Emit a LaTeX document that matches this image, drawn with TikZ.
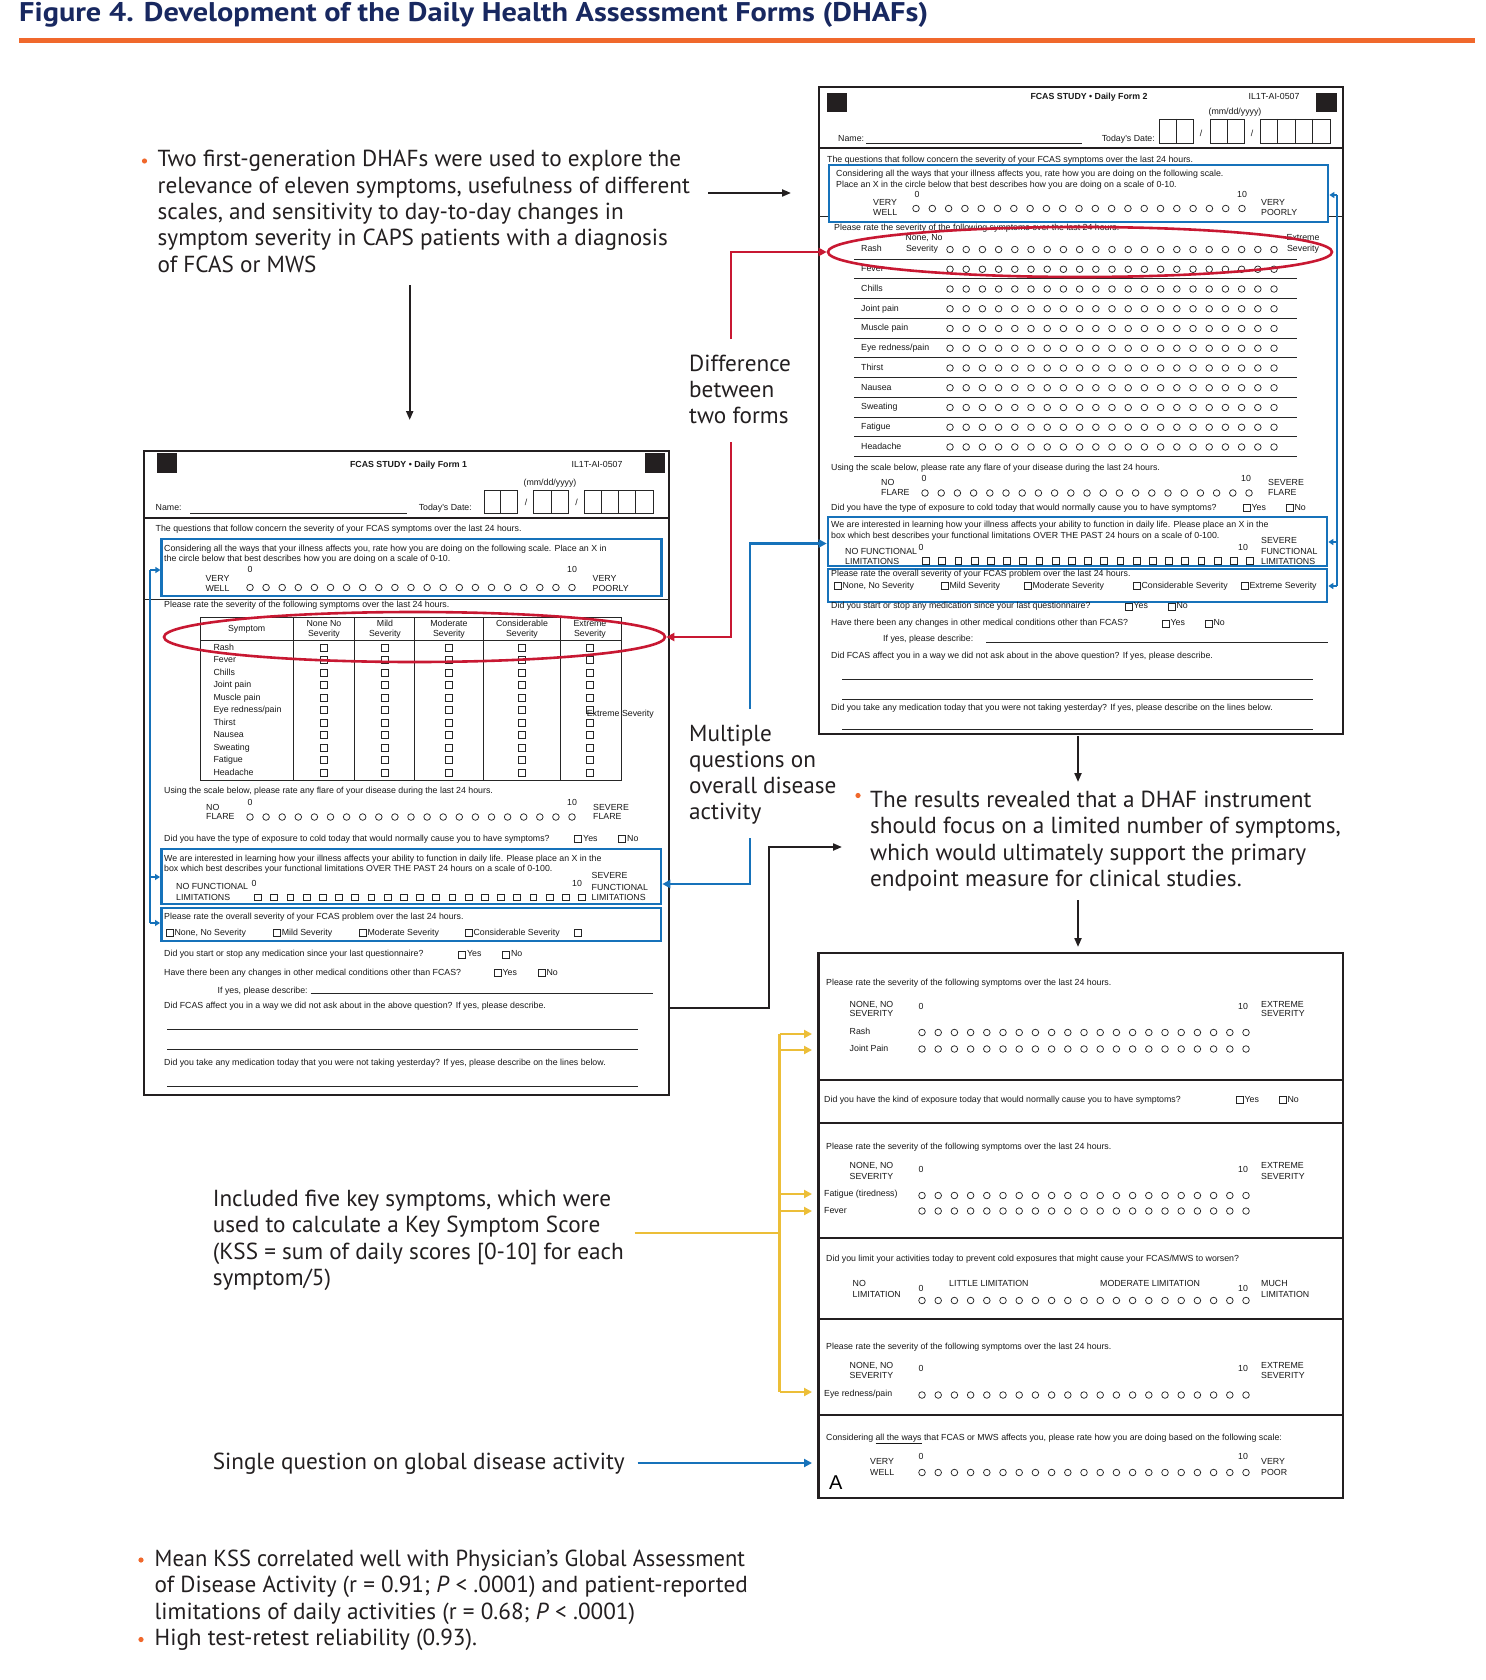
\documentclass[tikz,border=0pt]{standalone}
\usepackage{fontspec}
\usepackage{graphicx}
\setmainfont{PT Sans}
\newfontfamily\formfont{Liberation Sans}
\newfontfamily\titlefont{PT Sans}
\usetikzlibrary{shapes.geometric,arrows.meta,fit}
\definecolor{navy}{RGB}{24,40,96}
\definecolor{orng}{RGB}{240,104,44}
\definecolor{fblue}{RGB}{22,114,186}
\definecolor{fred}{RGB}{200,24,50}
\definecolor{fyel}{RGB}{236,190,56}
\definecolor{fgray}{RGB}{35,31,32}
\newcommand\crow[3]{\foreach \k in {0,...,20}{\draw[fL] ({#1+\k*#3},#2) circle[radius=3.3pt];}}
\newcommand\srow[3]{\foreach \k in {0,...,20}{\draw[fL] ({#1+\k*#3-3.4},{#2-3.4}) rectangle ++(6.8,6.8);}}
\newcommand\cbx[3]{\draw[fL] (#1,{#2-3.5}) rectangle ++(7,7); \node[fT] at ({#1+8.4},#2) {#3};}
\newcommand\ftx[2]{\node[fT] at (#1) {#2};}
\newcommand\fcx[2]{\node[fT,anchor=center] at (#1) {#2};}
\tikzset{
  fT/.style={font=\formfont\fontsize{8.8}{9}\selectfont, inner sep=0pt, anchor=west, text height=6.4pt, text depth=1.8pt, text=black!90},
  fTB/.style={fT, font=\formfont\bfseries\fontsize{8.8}{9}\selectfont},
  fL/.style={line width=0.75pt, draw=black!85},
  fBorder/.style={draw=fgray, line width=2.6pt, inner sep=0pt},
  fSep/.style={draw=fgray, line width=1.8pt},
  bBox/.style={draw=fblue, line width=2.6pt, inner sep=0pt},
  rEll/.style={draw=fred, line width=2.6pt, ellipse, inner sep=0pt},
  bodyT/.style={font=\fontsize{23.2}{26}\selectfont, inner sep=0pt, anchor=base west, text=fgray},
  arrK/.style={draw=fgray, line width=2pt, -{Triangle[length=9pt,width=7pt]}},
  arrR/.style={draw=fred, line width=2.6pt, -{Triangle[length=8pt,width=8pt]}},
  arrB/.style={draw=fblue, line width=2.4pt, -{Triangle[length=8pt,width=8pt]}},
  arrY/.style={draw=fyel, line width=2.6pt, -{Triangle[length=8pt,width=8pt]}},
  arrBs/.style={draw=fblue, line width=2pt, -{Triangle[length=5pt,width=6pt]}},
}
\begin{document}
\begin{tikzpicture}[x=1pt,y=-1pt]
\useasboundingbox (0,0) rectangle (1485,1680);
\fill[white] (0,0) rectangle (1485,1680);
% ---------------- title
\node[anchor=base west, inner sep=0pt, text=navy] (title) at (19,21.5) {\resizebox{909pt}{\height}{\titlefont\bfseries\fontsize{27}{27}\selectfont Figure 4. Development of the Daily Health Assessment Forms (DHAFs)}};
\fill[orng] (19,38.5) rectangle (1475,43);

% ---------------- FORM 2 (top right)
\node[fBorder, fit={(819,87)(1343,734)}] (F2) {};
\fill[fgray] (827,93) rectangle (847,112);
\fill[fgray] (1316,93) rectangle (1337,112);
\node[fTB, anchor=center] at (1089,97) {FCAS STUDY • Daily Form 2};
\fcx{1274,97}{IL1T-AI-0507}
\fcx{1235,112.5}{(mm/dd/yyyy)}
\ftx{838,139}{Name:}
\draw[fL] (866,143) -- (1082,143);
\node[fT,anchor=east] at (1155,139) {Today's Date:};
\draw[fL] (1159,119) rectangle (1193,143) (1176,119) -- (1176,143);
\fcx{1201,134}{/}
\draw[fL] (1210,119) rectangle (1244,143) (1227,119) -- (1227,143);
\fcx{1252,134}{/}
\draw[fL] (1260,119) rectangle (1330,143) (1277.5,119) -- (1277.5,143) (1295,119) -- (1295,143) (1312.5,119) -- (1312.5,143);
\draw[fSep] (819,148) -- (1343,148);
\ftx{827,160.5}{The questions that follow concern the severity of your FCAS symptoms over the last 24 hours.}
\draw[fL] (819,216) -- (829,216) (1328,216) -- (1343,216);
\node[bBox, fit={(829,165)(1328,222)}] (F2b1) {};
\ftx{836,174.6}{Considering all the ways that your illness affects you, rate how you are doing on the following scale.}
\ftx{836,185.4}{Place an X in the circle below that best describes how you are doing on a scale of 0-10.}
\fcx{917,195}{0} \fcx{1242,195}{10}
\ftx{873,203.6}{VERY} \ftx{873,213.2}{WELL}
\crow{916}{208.5}{16.3}
\ftx{1261,203.6}{VERY} \ftx{1261,213.2}{POORLY}
\ftx{834,228}{Please rate the severity of the following symptoms over the last 24 hours.}
\fcx{924,238}{None, No} \fcx{922,249}{Severity}
\fcx{1303,238}{Extreme} \fcx{1303,249}{Severity}
\foreach [count=\i from 0] \s in {Rash,Fever,Chills,Joint pain,Muscle pain,Eye redness/pain,Thirst,Nausea,Sweating,Fatigue,Headache}{
  \pgfmathsetmacro\yy{249.5+19.75*\i}
  \node[fT] at (861,\yy) {\s};
  \crow{950}{\yy}{16.2}
  \draw[fL] (854,\yy+9.5) -- (1297,\yy+9.5);
}
\ftx{831,468}{Using the scale below, please rate any flare of your disease during the last 24 hours.}
\fcx{924,479}{0} \fcx{1246,479}{10}
\ftx{881,483}{NO} \ftx{881,493}{FLARE}
\crow{925}{493}{16.2}
\ftx{1268,483}{SEVERE} \ftx{1268,493}{FLARE}
\ftx{831,508}{Did you have the type of exposure to cold today that would normally cause you to have symptoms?}
\cbx{1243}{508}{Yes} \cbx{1286}{508}{No}
\node[bBox, fit={(828,517)(1327,566)}] (F2b2) {};
\ftx{831,525}{We are interested in learning how your illness affects your ability to function in daily life. Please place an X in the}
\ftx{831,535.7}{box which best describes your functional limitations OVER THE PAST 24 hours on a scale of 0-100.}
\ftx{845,552}{NO FUNCTIONAL} \fcx{921,548.6}{0}
\ftx{845,562}{LIMITATIONS}
\srow{926}{561}{16.2}
\fcx{1243,548.6}{10}
\ftx{1261,541}{SEVERE} \ftx{1261,552}{FUNCTIONAL} \ftx{1261,562}{LIMITATIONS}
\node[bBox, fit={(828,569)(1327,602)}] (F2b3) {};
\ftx{831,574}{Please rate the overall severity of your FCAS problem over the last 24 hours.}
\cbx{834}{586}{None, No Severity} \cbx{941}{586}{Mild Severity} \cbx{1024}{586}{Moderate Severity}
\cbx{1133}{586}{Considerable Severity} \cbx{1241}{586}{Extreme Severity}
\ftx{831,606.4}{Did you start or stop any medication since your last questionnaire?}
\cbx{1125}{606.4}{Yes} \cbx{1168}{606.4}{No}
\ftx{831,623.6}{Have there been any changes in other medical conditions other than FCAS?}
\cbx{1162}{623.6}{Yes} \cbx{1205}{623.6}{No}
\ftx{883,639}{If yes, please describe:}
\draw[fL] (986,642) -- (1328,642);
\ftx{831,656}{Did FCAS affect you in a way we did not ask about in the above question? If yes, please describe.}
\draw[fL] (842,679) -- (1313,679) (842,699) -- (1313,699);
\ftx{831,708.5}{Did you take any medication today that you were not taking yesterday? If yes, please describe on the lines below.}
\draw[fL] (842,729) -- (1313,729);
% right bracket
\draw[fblue, line width=2pt] (1337,195) -- (1337,586);
\draw[arrBs] (1337,195) -- (F2b1.east |- 0,195);
\draw[arrBs] (1337,542) -- (F2b2.east |- 0,542);
\draw[arrBs] (1337,586) -- (F2b3.east |- 0,586);
\node[rEll, minimum width=504pt, minimum height=50pt] (E2) at (1080,252) {};

% ---------------- FORM 1 (left)
\node[fBorder, fit={(144,451)(669,1095)}] (F1) {};
\fill[fgray] (156.5,453) rectangle (177,473);
\fill[fgray] (644.5,453) rectangle (665,473);
\node[fTB, anchor=center] at (408.6,465) {FCAS STUDY • Daily Form 1};
\fcx{597,465}{IL1T-AI-0507}
\fcx{550,483}{(mm/dd/yyyy)}
\ftx{155.5,508}{Name:}
\draw[fL] (190,513) -- (407,513);
\node[fT,anchor=east] at (472,508) {Today's Date:};
\draw[fL] (484,490) rectangle (517,513) (500.5,490) -- (500.5,513);
\fcx{526,503}{/}
\draw[fL] (533.6,490) rectangle (568,513) (551,490) -- (551,513);
\fcx{576.6,503}{/}
\draw[fL] (584,490) rectangle (653,513) (601.25,490) -- (601.25,513) (618.5,490) -- (618.5,513) (635.75,490) -- (635.75,513);
\draw[fSep] (144,518) -- (669,518);
\ftx{155.5,529.5}{The questions that follow concern the severity of your FCAS symptoms over the last 24 hours.}
\draw[fL] (144,599) -- (669,599);
\node[bBox, fit={(161.7,539)(661.7,596)}] (F1b1) {};
\ftx{164,549.6}{Considering all the ways that your illness affects you, rate how you are doing on the following scale. Place an X in}
\ftx{164,559.5}{the circle below that best describes how you are doing on a scale of 0-10.}
\fcx{250,570}{0} \fcx{572,570}{10}
\fcx{217.5,579.6}{VERY} \fcx{217.5,589}{WELL}
\crow{250}{587.5}{16.1}
\ftx{592.5,579.6}{VERY} \ftx{592.5,589}{POORLY}
\ftx{164,605.5}{Please rate the severity of the following symptoms over the last 24 hours.}
\draw[fL] (200,617) rectangle (621,780);
\draw[fL] (200,640) -- (621,640);
\foreach \xx in {293,354,414.5,483.7,560} \draw[fL] (\xx,617) -- (\xx,780);
\fcx{246.7,629}{Symptom}
\fcx{324,624}{None No} \fcx{324,634}{Severity}
\fcx{385,624}{Mild} \fcx{385,634}{Severity}
\fcx{449,624}{Moderate} \fcx{449,634}{Severity}
\fcx{522,624}{Considerable} \fcx{522,634}{Severity}
\fcx{590,624}{Extreme} \fcx{590,634}{Severity}
\foreach [count=\i from 0] \s in {Rash,Fever,Chills,Joint pain,Muscle pain,Eye redness/pain,Thirst,Nausea,Sweating,Fatigue,Headache}{
  \pgfmathsetmacro\yy{647.7+12.5*\i}
  \node[fT] at (213.3,\yy) {\s};
  \foreach \xx in {324,385,449,522,590} \draw[fL] (\xx-3.5,\yy-3.5) rectangle ++(7,7);
}
\ftx{586.6,714}{Extreme Severity}
\ftx{164,791}{Using the scale below, please rate any flare of your disease during the last 24 hours.}
\fcx{250,803.5}{0} \fcx{572,803.5}{10}
\ftx{206,808}{NO} \ftx{206,817.5}{FLARE}
\crow{250}{817}{16.1}
\ftx{593,808}{SEVERE} \ftx{593,817.5}{FLARE}
\ftx{164,839}{Did you have the type of exposure to cold today that would normally cause you to have symptoms?}
\cbx{574.6}{839}{Yes} \cbx{618.6}{839}{No}
\node[bBox, fit={(161.3,849)(661,904)}] (F1b2) {};
\ftx{164,859}{We are interested in learning how your illness affects your ability to function in daily life. Please place an X in the}
\ftx{164,869}{box which best describes your functional limitations OVER THE PAST 24 hours on a scale of 0-100.}
\ftx{176,887}{NO FUNCTIONAL} \ftx{176,898}{LIMITATIONS}
\fcx{254,884}{0}
\srow{258}{897.3}{16.2}
\fcx{577,884}{10}
\ftx{591.5,876.5}{SEVERE} \ftx{591.5,888}{FUNCTIONAL} \ftx{591.5,898}{LIMITATIONS}
\node[bBox, fit={(161.3,908)(661,941)}] (F1b3) {};
\ftx{164,917}{Please rate the overall severity of your FCAS problem over the last 24 hours.}
\cbx{166}{933}{None, No Severity} \cbx{273.2}{933}{Mild Severity} \cbx{359}{933}{Moderate Severity}
\cbx{465}{933}{Considerable Severity}
\draw[fL] (574.3,929.5) rectangle ++(7,7);
\ftx{164,954.6}{Did you start or stop any medication since your last questionnaire?}
\cbx{458.5}{954.6}{Yes} \cbx{502.5}{954.6}{No}
\ftx{164,972.8}{Have there been any changes in other medical conditions other than FCAS?}
\cbx{494}{972.8}{Yes} \cbx{538}{972.8}{No}
\ftx{217.5,991}{If yes, please describe:}
\draw[fL] (310.5,993) -- (653,993);
\ftx{164,1006}{Did FCAS affect you in a way we did not ask about in the above question? If yes, please describe.}
\draw[fL] (167,1029) -- (637.6,1029) (167,1049.5) -- (637.6,1049.5);
\ftx{164,1063.5}{Did you take any medication today that you were not taking yesterday? If yes, please describe on the lines below.}
\draw[fL] (167,1086) -- (637.6,1086);
% left bracket
\draw[fblue, line width=2pt] (150.3,570) -- (150.3,923);
\draw[arrBs] (150.3,570) -- (F1b1.west |- 0,570);
\draw[arrBs] (150.3,877) -- (F1b2.west |- 0,877);
\draw[arrBs] (150.3,923) -- (F1b3.west |- 0,923);
\node[rEll, minimum width=501pt, minimum height=50pt] (E1) at (414.5,637) {};

% ---------------- FORM 3 (bottom right)
\node[fBorder, fit={(818.5,953)(1343,1498)}] (F3) {};
\foreach \yy in {1080,1123.3,1237.7,1319.3,1415} \draw[fSep] (818.5,\yy) -- (1343,\yy);
\ftx{826,983.5}{Please rate the severity of the following symptoms over the last 24 hours.}
\ftx{849.5,1005}{NONE, NO} \ftx{849.5,1014.6}{SEVERITY}
\fcx{921,1007.3}{0} \fcx{1243,1007.3}{10}
\ftx{1261,1005}{EXTREME} \ftx{1261,1014.6}{SEVERITY}
\ftx{849.5,1031.7}{Rash} \crow{922}{1032.5}{16.2}
\ftx{849.5,1049}{Joint Pain} \crow{922}{1049}{16.2}
\ftx{824,1100.3}{Did you have the kind of exposure today that would normally cause you to have symptoms?}
\cbx{1236}{1100.3}{Yes} \cbx{1279}{1100.3}{No}
\ftx{826,1147.5}{Please rate the severity of the following symptoms over the last 24 hours.}
\ftx{849.5,1166.5}{NONE, NO} \ftx{849.5,1177}{SEVERITY}
\fcx{921,1170}{0} \fcx{1243,1170}{10}
\ftx{1261,1166.5}{EXTREME} \ftx{1261,1177}{SEVERITY}
\ftx{824,1194.5}{Fatigue (tiredness)} \crow{922}{1195.5}{16.2}
\ftx{824,1211}{Fever} \crow{922}{1211}{16.2}
\ftx{826,1259}{Did you limit your activities today to prevent cold exposures that might cause your FCAS/MWS to worsen?}
\ftx{852.5,1284.6}{NO} \ftx{852.5,1295.3}{LIMITATION}
\fcx{921,1289}{0}
\ftx{949,1284.6}{LITTLE LIMITATION}
\ftx{1100,1284.6}{MODERATE LIMITATION}
\fcx{1243,1289}{10}
\ftx{1261,1284.6}{MUCH} \ftx{1261,1295.3}{LIMITATION}
\crow{922}{1300.5}{16.2}
\ftx{826,1346.7}{Please rate the severity of the following symptoms over the last 24 hours.}
\ftx{849.5,1366}{NONE, NO} \ftx{849.5,1376.5}{SEVERITY}
\fcx{921,1369}{0} \fcx{1243,1369}{10}
\ftx{1261,1366}{EXTREME} \ftx{1261,1376.5}{SEVERITY}
\ftx{824,1394}{Eye redness/pain} \crow{922}{1395}{16.2}
\ftx{826,1438}{Considering \underline{all the ways} that FCAS or MWS affects you, please rate how you are doing based on the following scale:}
\fcx{921,1457}{0} \fcx{1243,1457}{10}
\ftx{870,1462.5}{VERY} \ftx{870,1473.2}{WELL}
\crow{922}{1472.5}{16.2}
\ftx{1261,1462.5}{VERY} \ftx{1261,1473.2}{POOR}
\node[font=\formfont\fontsize{20}{20}\selectfont, anchor=base west, inner sep=0pt] (Aletter) at (829,1489) {A};

% ---------------- body texts
\fill[orng] (144.5,161) circle[radius=2.6pt];
\node[bodyT] (b1a) at (157.5,167) {Two first-generation DHAFs were used to explore the};
\node[bodyT] (b1b) at (157.5,193.3) {relevance of eleven symptoms, usefulness of different};
\node[bodyT] (b1c) at (157.5,219.6) {scales, and sensitivity to day-to-day changes in};
\node[bodyT] (b1d) at (157.5,245.9) {symptom severity in CAPS patients with a diagnosis};
\node[bodyT] (b1e) at (157.5,272.2) {of FCAS or MWS};

\node[bodyT] (d1) at (689,371) {Difference};
\node[bodyT] (d2) at (689,397.3) {between};
\node[bodyT] (d3) at (689,423.6) {two forms};

\node[bodyT] (m1) at (689,741) {Multiple};
\node[bodyT] (m2) at (689,767.3) {questions on};
\node[bodyT] (m3) at (689,793.6) {overall disease};
\node[bodyT] (m4) at (689,819.9) {activity};

\fill[orng] (858,795.5) circle[radius=2.6pt];
\node[bodyT] (r1) at (870,807.5) {The results revealed that a DHAF instrument};
\node[bodyT] (r2) at (870,833.8) {should focus on a limited number of symptoms,};
\node[bodyT] (r3) at (870,860.1) {which would ultimately support the primary};
\node[bodyT] (r4) at (870,886.4) {endpoint measure for clinical studies.};

\node[bodyT] (y1) at (212.6,1206) {Included five key symptoms, which were};
\node[bodyT] (y2) at (212.6,1232.5) {used to calculate a Key Symptom Score};
\node[bodyT] (y3) at (212.6,1259) {(KSS = sum of daily scores [0-10] for each};
\node[bodyT] (y4) at (212.6,1285.5) {symptom/5)};

\node[bodyT] (s1) at (212.6,1469) {Single question on global disease activity};

\fill[orng] (141,1560) circle[radius=2.6pt];
\node[bodyT] (z1) at (154.5,1566) {\scalebox{0.97}[1]{Mean KSS correlated well with Physician’s Global Assessment}};
\node[bodyT] (z2) at (154.5,1592.5) {of Disease Activity (r = 0.91; \textit{P} < .0001) and patient-reported};
\node[bodyT] (z3) at (154.5,1619) {limitations of daily activities (r = 0.68; \textit{P} < .0001)};
\fill[orng] (141,1639.5) circle[radius=2.6pt];
\node[bodyT] (z4) at (154.5,1645.5) {High test-retest reliability (0.93).};

% ---------------- connectors
\coordinate (a1s) at (708,193); \coordinate (a1e) at (791,193);
\draw[arrK] (a1s) -- (a1e);
\coordinate (a2s) at (409.7,285); \coordinate (a2e) at (409.7,420);
\draw[arrK] (a2s) -- (a2e);
\coordinate (rU) at (731,339); \coordinate (rD) at (731,442);
\draw[arrR] (rU) |- (E2.west);
\draw[arrR] (rD) |- (E1.east);
\coordinate (bU) at (750,709); \coordinate (bD) at (750,838);
\draw[arrB] (bU) |- ([yshift=-2pt]F2b2.west);
\draw[arrB] (bD) |- ([yshift=-7.5pt]F1b2.east);
\coordinate (kS) at (669,1008); \coordinate (kM) at (769,847); \coordinate (kE) at (842,847);
\draw[arrK] (kS) -| (kM) -- (kE);
\coordinate (f2s) at (1078,736); \coordinate (f2e) at (1078,782);
\draw[arrK] (f2s) -- (f2e);
\coordinate (f3s) at (1078,900); \coordinate (f3e) at (1078,947);
\draw[arrK] (f3s) -- (f3e);
\coordinate (yS) at (634.5,1233); \coordinate (yJ) at (779.6,1233);
\draw[fyel, line width=2.6pt] (yS) -- (yJ);
\draw[fyel, line width=2.6pt] (779.6,1034) -- (779.6,1392);
\foreach \yy in {1034,1050,1194,1211,1392} \draw[arrY] (779.6,\yy) -- (812,\yy);
\coordinate (sS) at (637.6,1463); \coordinate (sE) at (812,1463);
\draw[arrB] (sS) -- (sE);
\end{tikzpicture}
\end{document}
